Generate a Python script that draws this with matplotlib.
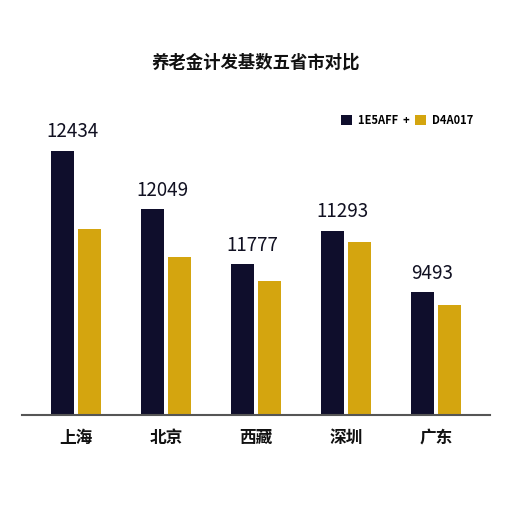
import matplotlib
matplotlib.use("Agg")
import matplotlib.pyplot as plt
import numpy as np

plt.rcParams['font.family'] = ['Noto Sans CJK SC', 'DejaVu Sans']

# data
regions = ["上海", "北京", "西藏", "深圳", "广东"]
series_names = ["1E5AFF", "D4A017"]
dark_vals = [12434, 9700, 7110, 8670, 5790]
gold_vals = [8760, 7440, 6310, 8150, 5180]
top_labels = [12434, 12049, 11777, 11293, 9493]
title = "养老金计发基数五省市对比"

DARK = "#0f0e2c"
GOLD = "#d4a50f"

fig = plt.figure(figsize=(5.12, 5.12), dpi=100)
ax = fig.add_axes([0.043, 0.1895, 0.914, 0.622])

x = np.arange(len(regions))
w = 0.255
off = 0.145
ax.bar(x - off, dark_vals, w, color=DARK, label=series_names[0] + "  +")
ax.bar(x + off, gold_vals, w, color=GOLD, label=series_names[1])

for xi, v, lab in zip(x, dark_vals, top_labels):
    ax.text(xi - 0.04, v + 400, str(lab), ha="center", va="bottom",
            fontsize=13.5, color="#111122")

ax.set_xlim(-0.6, 4.6)
ax.set_ylim(0, 15000)
ax.set_xticks(x)
ax.set_xticklabels(regions, fontsize=12, fontweight="bold", color="#111111")
ax.tick_params(axis="x", length=0, pad=10)
ax.set_yticks([])
for s in ["top", "right", "left"]:
    ax.spines[s].set_visible(False)
ax.spines["bottom"].set_color("#555555")
ax.spines["bottom"].set_linewidth(1.5)

leg = ax.legend(loc="center right", bbox_to_anchor=(0.985, 0.926), ncol=2,
                frameon=False, handlelength=1.0, handleheight=1.0,
                handletextpad=0.5, columnspacing=0.5,
                prop={"size": 8, "weight": "bold"})

fig.text(0.5, 0.877, title, ha="center", va="center", fontsize=12.5,
         fontweight="bold", color="#111111")

fig.savefig("out.png", dpi=100, facecolor="white")
